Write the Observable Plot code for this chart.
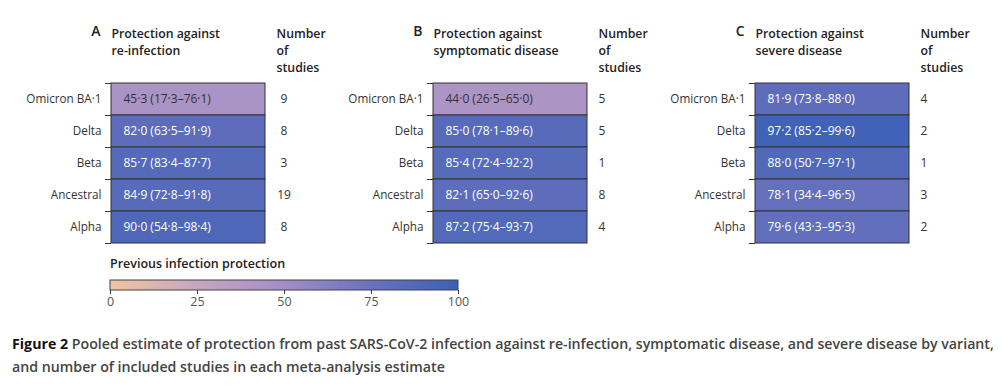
<!DOCTYPE html>
<html>
<head>
<meta charset="utf-8">
<script src="https://cdn.jsdelivr.net/npm/d3@7"></script>
<script src="https://cdn.jsdelivr.net/npm/@observablehq/plot@0.6"></script>
<style>
  body { margin: 0; background: #fff; font-family: "Open Sans", sans-serif; }
  #wrap { position: relative; width: 1002px; height: 386px; overflow: hidden; }
  #chart { position: absolute; left: 0; top: 0; }
  #legtitle { position: absolute; left: 110px; top: 255px; font-size: 12.5px; line-height: 17px; font-weight: 600; color: #222; white-space: nowrap; }
  #legend { position: absolute; left: 0; top: 278px; }
  #caption { position: absolute; left: 12px; top: 332px; font-size: 14.2px; line-height: 23px; font-weight: 600; color: #444; white-space: nowrap; }
  #caption b { color: #111; font-weight: 700; }
</style>
</head>
<body>
<div id="wrap">
  <div id="chart"></div>
  <div id="legtitle"></div>
  <div id="legend"></div>
  <div id="caption"></div>
</div>
<script>
// ---- data ----
const variants = ["Omicron BA·1", "Delta", "Beta", "Ancestral", "Alpha"];
const panels = ["A", "B", "C"];
const panelTitles = [
  "Protection against\nre-infection",
  "Protection against\nsymptomatic disease",
  "Protection against\nsevere disease"
];
const studiesHeader = "Number\nof\nstudies";

const estimateA = [45.3, 82.0, 85.7, 84.9, 90.0];
const lowerA    = [17.3, 63.5, 83.4, 72.8, 54.8];
const upperA    = [76.1, 91.9, 87.7, 91.8, 98.4];
const studiesA  = [9, 8, 3, 19, 8];

const estimateB = [44.0, 85.0, 85.4, 82.1, 87.2];
const lowerB    = [26.5, 78.1, 72.4, 65.0, 75.4];
const upperB    = [65.0, 89.6, 92.2, 92.6, 93.7];
const studiesB  = [5, 5, 1, 8, 4];

const estimateC = [81.9, 97.2, 88.0, 78.1, 79.6];
const lowerC    = [73.8, 85.2, 50.7, 34.4, 43.3];
const upperC    = [88.0, 99.6, 97.1, 96.5, 95.3];
const studiesC  = [4, 2, 1, 3, 2];

const colorStops = [0, 25, 50, 75, 100];
const colorRange = ["#f0c6a2", "#c6a6c0", "#a48ec6", "#6a72bd", "#3b60b6"];
const legendTicks = [0, 25, 50, 75, 100];
const legendTitle = "Previous infection protection";
const captionBold = "Figure 2";
const captionLine1 = "Pooled estimate of protection from past SARS-CoV-2 infection against re-infection, symptomatic disease, and severe disease by variant,";
const captionLine2 = "and number of included studies in each meta-analysis estimate";

// ---- build table ----
const fmt = v => d3.format(".1f")(v).replace(".", "·");
const series = {
  A: [estimateA, lowerA, upperA, studiesA],
  B: [estimateB, lowerB, upperB, studiesB],
  C: [estimateC, lowerC, upperC, studiesC]
};
const rows = [];
panels.forEach(p => {
  const [est, lo, hi, n] = series[p];
  variants.forEach((v, i) => {
    rows.push({panel: p, variant: v, row: i, est: est[i], lo: lo[i], hi: hi[i], n: n[i],
      label: `${fmt(est[i])} (${fmt(lo[i])}–${fmt(hi[i])})`});
  });
});
const headers = panels.map((p, i) => ({panel: p, title: panelTitles[i]}));
const rowEdges = d3.range(variants.length + 1);
const darkText = d => d.est < 60;

const chart = Plot.plot({
  width: 1002,
  height: 250,
  marginTop: 83,
  marginBottom: 7,
  marginLeft: 110,
  marginRight: 93,
  fx: {domain: panels, paddingInner: 0.5225, paddingOuter: 0, axis: null, label: null},
  x: {domain: ["estimate"], padding: 0, axis: null},
  y: {domain: [0, variants.length], reverse: true, axis: null},
  color: {type: "linear", domain: colorStops, range: colorRange},
  style: {fontFamily: "Open Sans", fontSize: "11.5px", color: "#333", background: "#fff"},
  marks: [
    Plot.barY(rows, {fx: "panel", x: () => "estimate", y1: "row", y2: d => d.row + 1, fill: "est", stroke: "#333", strokeWidth: 1}),
    Plot.axisY({ticks: rowEdges, tickSize: 6, tickFormat: () => "", facetAnchor: null, stroke: "#333", label: null}),
    // row labels
    Plot.text(rows, {fx: "panel", y: d => d.row + 0.5, text: "variant", frameAnchor: "left", textAnchor: "end", dx: -10, fill: "#333", fontSize: 11.7}),
    // cell labels
    Plot.text(rows.filter(darkText), {fx: "panel", y: d => d.row + 0.5, text: "label", frameAnchor: "left", textAnchor: "start", dx: 12, fill: "#333", fontSize: 12}),
    Plot.text(rows.filter(d => !darkText(d)), {fx: "panel", y: d => d.row + 0.5, text: "label", frameAnchor: "left", textAnchor: "start", dx: 12, fill: "#fff", fontSize: 12}),
    // number of studies
    Plot.text(rows.filter(d => d.panel === "A"), {fx: "panel", y: d => d.row + 0.5, text: "n", frameAnchor: "right", textAnchor: "middle", dx: 18.5, fill: "#333", fontSize: 12}),
    Plot.text(rows.filter(d => d.panel !== "A"), {fx: "panel", y: d => d.row + 0.5, text: "n", frameAnchor: "right", textAnchor: "start", dx: 11, fill: "#333", fontSize: 12}),
    // headers
    Plot.text(headers, {fx: "panel", text: "panel", frameAnchor: "top-left", textAnchor: "end", lineAnchor: "top", dx: -11, dy: -57, fontSize: 14, fontWeight: 600, fill: "#222"}),
    Plot.text(headers, {fx: "panel", text: "title", frameAnchor: "top-left", textAnchor: "start", lineAnchor: "top", dy: -57, lineHeight: 1.37, fontSize: 12.3, fontWeight: 600, fill: "#222"}),
    Plot.text(headers, {fx: "panel", text: () => studiesHeader, frameAnchor: "top-right", textAnchor: "start", lineAnchor: "top", dx: 11, dy: -57, lineHeight: 1.37, fontSize: 12.3, fontWeight: 600, fill: "#222"})
  ]
});
document.getElementById("chart").appendChild(chart);

// ---- legend ----
document.getElementById("legtitle").textContent = legendTitle;
const legend = chart.legend("color", {
  width: 470, height: 36, marginTop: 2, marginBottom: 24, marginLeft: 110, marginRight: 12,
  ticks: legendTicks, tickSize: 4, label: null,
  style: {fontFamily: "Open Sans", fontSize: "12.5px", color: "#555", background: "transparent"}
});
document.getElementById("legend").appendChild(legend);
const lsvg = d3.select(legend.tagName.toLowerCase() === "svg" ? legend : legend.querySelector("svg"));
lsvg.selectAll(".tick line").attr("y1", null).attr("stroke", "#333");
const img = lsvg.select("image");
if (!img.empty()) {
  lsvg.append("rect")
    .attr("x", img.attr("x")).attr("y", img.attr("y"))
    .attr("width", img.attr("width")).attr("height", img.attr("height"))
    .attr("fill", "none").attr("stroke", "#444").attr("stroke-width", 1);
}

// ---- caption ----
const cap = document.getElementById("caption");
const b = document.createElement("b");
b.textContent = captionBold;
cap.appendChild(b);
cap.appendChild(document.createTextNode(" " + captionLine1));
cap.appendChild(document.createElement("br"));
cap.appendChild(document.createTextNode(captionLine2));
</script>
</body>
</html>
